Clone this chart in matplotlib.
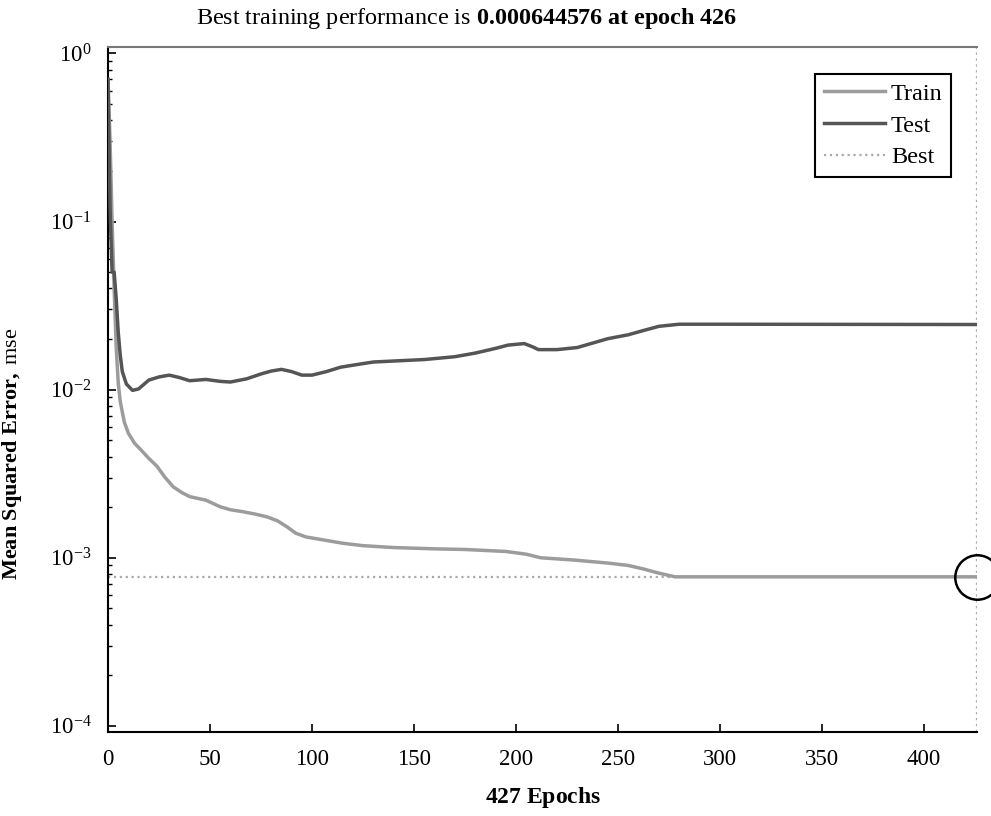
import matplotlib
matplotlib.use("Agg")
import matplotlib.pyplot as plt
import numpy as np

plt.rcParams["font.family"] = ["Liberation Serif", "DejaVu Serif"]
plt.rcParams["mathtext.fontset"] = "custom"
plt.rcParams["mathtext.rm"] = "Liberation Serif"
plt.rcParams["mathtext.it"] = "Liberation Serif:italic"
plt.rcParams["mathtext.bf"] = "Liberation Serif:bold"
plt.rcParams["axes.unicode_minus"] = False

# values
train_epochs = [0, 1, 2, 3, 4, 5, 6, 8, 10, 13, 16, 20, 24, 28, 32, 36, 40, 48, 55, 60,
                66, 72, 78, 83, 88, 92, 97, 105, 115, 125, 140, 160, 175, 195, 205, 212,
                228, 245, 255, 262, 270, 278, 290, 426]
train_mse = [0.7, 0.3, 0.1, 0.04, 0.018, 0.011, 0.0085, 0.0064, 0.0055, 0.0048, 0.0044,
             0.0039, 0.0035, 0.003, 0.00264, 0.00245, 0.00231, 0.0022, 0.00201, 0.00193,
             0.00188, 0.00182, 0.00175, 0.00166, 0.00152, 0.0014, 0.00133, 0.00128,
             0.00122, 0.00118, 0.00115, 0.00113, 0.00112, 0.00109, 0.00105, 0.001,
             0.00097, 0.00093, 0.0009, 0.00086, 0.00081, 0.00077, 0.00077, 0.00077]

test_epochs = [0, 1, 2, 3, 4, 5, 6, 7, 9, 12, 15, 20, 25, 30, 35, 40, 48, 55, 60, 68, 75,
               80, 85, 90, 95, 100, 107, 114, 122, 130, 140, 155, 170, 180, 190, 196, 204,
               208, 211, 220, 230, 245, 255, 262, 270, 280, 300, 426]
test_mse = [0.7, 0.12, 0.05, 0.05, 0.035, 0.022, 0.016, 0.0128, 0.0108, 0.0099, 0.0101,
            0.0114, 0.0119, 0.0122, 0.0118, 0.0113, 0.0115, 0.0112, 0.0111, 0.0116, 0.0124,
            0.0129, 0.0132, 0.0128, 0.0122, 0.0122, 0.0128, 0.0136, 0.0141, 0.0146, 0.0148,
            0.0151, 0.0157, 0.0165, 0.0176, 0.0184, 0.0188, 0.018, 0.0173, 0.0173, 0.0178,
            0.0201, 0.0212, 0.0224, 0.0238, 0.0245, 0.0245, 0.0244]

best_epoch = 426
best_mse = 0.00077
n_epochs = 427

fig = plt.figure(figsize=(9.91, 8.16), dpi=100)
ax = fig.add_axes([0.109, 0.103, 0.877, 0.839])

ax.plot(train_epochs, train_mse, color="#9c9c9c", linewidth=2.5, label="Train", zorder=3)
ax.plot(test_epochs, test_mse, color="#555555", linewidth=2.5, label="Test", zorder=3)
ax.axhline(best_mse, color="#aaaaaa", linestyle=":", linewidth=1.6, label="Best", zorder=2)
ax.axvline(best_epoch, color="#aaaaaa", linestyle=":", linewidth=1.6, zorder=2)
ax.plot([best_epoch], [best_mse], "o", markersize=32, markerfacecolor="none",
        markeredgecolor="black", markeredgewidth=1.8, clip_on=False, zorder=4)

ax.set_yscale("log")
ax.set_xlim(0, n_epochs - 1)
ax.set_ylim(9.2e-5, 1.087)
ax.set_xticks(np.arange(0, 401, 50))

ax.spines["right"].set_visible(False)
ax.spines["top"].set_color("#777777")
ax.spines["top"].set_linewidth(1.5)
ax.spines["left"].set_linewidth(1.5)
ax.spines["bottom"].set_linewidth(1.5)

ax.tick_params(axis="both", which="major", direction="in", length=6, width=1.2,
               labelsize=16.5, top=False, right=False)
ax.tick_params(axis="y", which="minor", direction="in", length=3, width=1.0, right=False)
ax.tick_params(axis="x", which="major", pad=12)
ax.tick_params(axis="y", which="major", pad=12)

ax.set_xlabel(r"$\mathbf{427\ Epochs}$", fontsize=17, labelpad=11)
ax.set_ylabel(r"$\mathbf{Mean\ Squared\ Error,}$ mse", fontsize=16)
ax.yaxis.set_label_coords(-0.097, 0.406)
fig.text(0.471, 0.977, r"Best training performance is $\mathbf{0.000644576\ at\ epoch\ 426}$",
         ha="center", va="center", fontsize=17.4)

leg = ax.legend(loc="upper right", bbox_to_anchor=(0.970, 0.9606), borderaxespad=0,
                fontsize=17.5, fancybox=False, framealpha=1, edgecolor="black",
                handlelength=2.5, handletextpad=0.25, labelspacing=0.4, borderpad=0.35)
leg.get_frame().set_linewidth(1.5)

fig.savefig("out.png", dpi=100)
